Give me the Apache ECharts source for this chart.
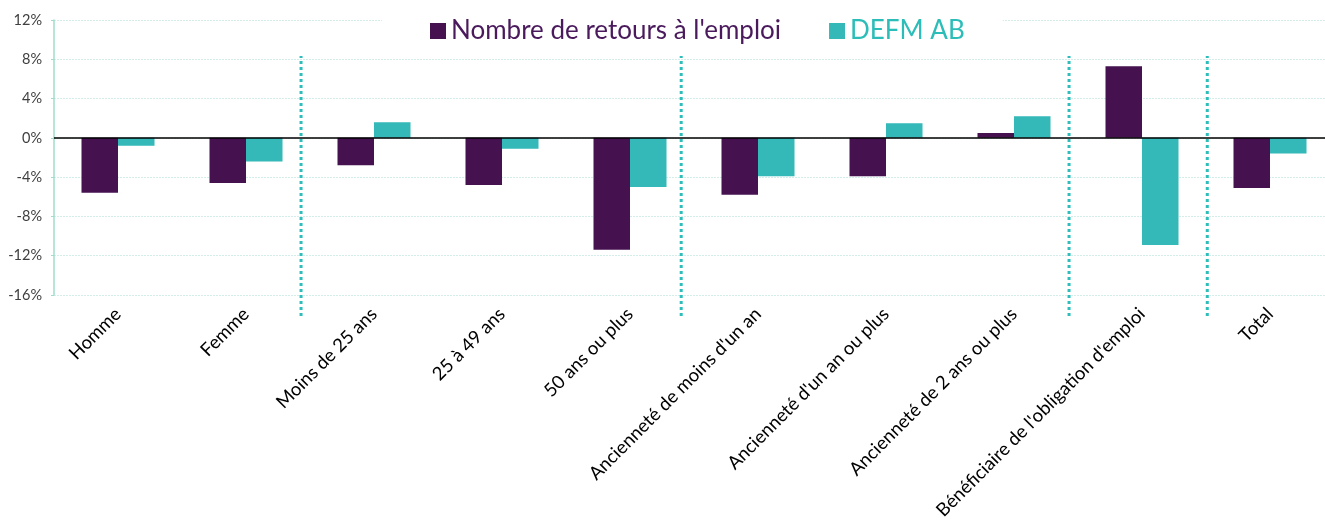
<!DOCTYPE html>
<html>
<head>
<meta charset="utf-8">
<script src="https://cdn.jsdelivr.net/npm/echarts@6/dist/echarts.min.js"></script>
<style>
  html, body { margin: 0; padding: 0; background: #fff; }
  #main { width: 1325px; height: 530px; }
</style>
</head>
<body>
<div id="main"></div>
<script>
var categories = [
  'Homme', 'Femme', 'Moins de 25 ans', '25 à 49 ans', '50 ans ou plus',
  "Ancienneté de moins d'un an", "Ancienneté d'un an ou plus",
  'Ancienneté de 2 ans ou plus', "Bénéficiaire de l'obligation d'emploi", 'Total'
];
var retours = [-5.6, -4.6, -2.8, -4.8, -11.4, -5.8, -3.9, 0.5, 7.3, -5.1];
var defm = [-0.8, -2.4, 1.6, -1.1, -5.0, -3.9, 1.5, 2.2, -10.9, -1.6];
// dotted group separators, in category units (0 = left edge of first band)
var separators = [1.93, 4.9, 7.93, 9.01];

var purple = '#45124f';
var teal = '#35b8b8';

var chart = echarts.init(document.getElementById('main'));

var sepSeries = separators.map(function (s) {
  return {
    type: 'line',
    xAxisIndex: 1,
    yAxisIndex: 1,
    symbol: 'none',
    silent: true,
    data: [[s, 0], [s, 1]],
    lineStyle: { color: '#2dbdbb', width: 3, type: [3, 3] },
    z: 5
  };
});

var option = {
  animation: false,
  textStyle: { fontFamily: 'Lato, sans-serif' },
  legend: {
    left: 382,
    top: 0,
    backgroundColor: '#fff',
    padding: [18, 38, 10, 48],
    icon: 'rect',
    itemWidth: 16,
    itemHeight: 16,
    itemGap: 48,
    z: 10,
    textStyle: { fontSize: 26 },
    data: [
      { name: "Nombre de retours à l'emploi", textStyle: { color: '#4a1a5c' } },
      { name: 'DEFM AB', textStyle: { color: '#2dbdb8' } }
    ]
  },
  grid: [
    { left: 54, width: 1280, top: 20, bottom: 235, outerBoundsMode: 'none' },
    { left: 54, width: 1280, top: 56, bottom: 214, outerBoundsMode: 'none' }
  ],
  xAxis: [
    {
      type: 'category',
      data: categories,
      axisLine: { show: false },
      axisTick: { show: false },
      axisLabel: {
        interval: 0,
        rotate: 45,
        margin: 16,
        fontSize: 18.5,
        color: '#000'
      }
    },
    { type: 'value', gridIndex: 1, min: 0, max: 10, show: false }
  ],
  yAxis: [
    {
      type: 'value',
      min: -16,
      max: 12,
      interval: 4,
      axisLine: { show: true, lineStyle: { color: '#9fdcca', width: 1.5 } },
      axisTick: { show: true, length: 3, lineStyle: { color: '#9fdcca' } },
      axisLabel: {
        formatter: '{value}%',
        fontSize: 14.5,
        color: '#404040',
        margin: 12
      },
      splitLine: { lineStyle: { color: '#d3eee9', type: [2, 1] } }
    },
    { type: 'value', gridIndex: 1, min: 0, max: 1, show: false }
  ],
  series: [
    {
      name: "Nombre de retours à l'emploi",
      type: 'bar',
      data: retours,
      barWidth: 36.5,
      barGap: '0%',
      itemStyle: { color: purple },
      markLine: {
        silent: true,
        symbol: 'none',
        label: { show: false },
        lineStyle: { color: '#000', width: 1.5, type: 'solid' },
        data: [{ yAxis: 0 }]
      }
    },
    {
      name: 'DEFM AB',
      type: 'bar',
      data: defm,
      barWidth: 36.5,
      itemStyle: { color: teal }
    }
  ].concat(sepSeries)
};

chart.setOption(option);
</script>
</body>
</html>
